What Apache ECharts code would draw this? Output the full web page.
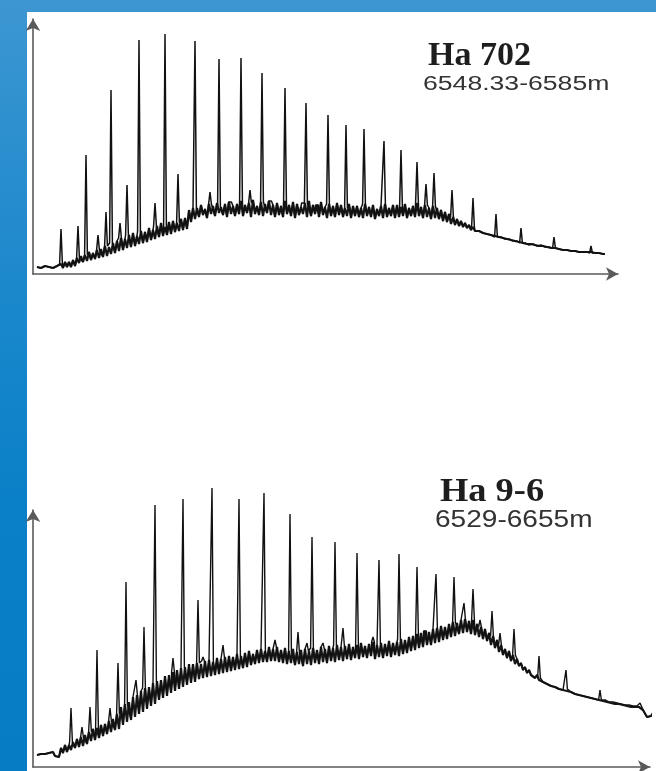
<!DOCTYPE html>
<html>
<head>
<meta charset="utf-8">
<script src="https://cdn.jsdelivr.net/npm/echarts@6/dist/echarts.min.js"></script>
<style>
  html, body { margin: 0; padding: 0; }
  body { width: 656px; height: 771px; background: linear-gradient(180deg, #3d96d2 0%, #1d89cc 35%, #0a80c8 65%, #067cc4 100%); overflow: hidden; }
  #chart { position: absolute; left: 0; top: 0; width: 656px; height: 771px; }
</style>
</head>
<body>
<div id="chart"></div>
<script>
// ---- Sample labels ----
const topTitle = "Ha 702";
const topDepth = "6548.33-6585m";
const bottomTitle = "Ha 9-6";
const bottomDepth = "6529-6655m";

// ---- Ha 702: UCM hump signal, upper excursions at whole scans ----
const topBaseline = [
  7, 6, 8, 7, 6, 8, 10, 12, 12, 14,
  16, 18, 19, 22, 21, 24, 25, 28, 27, 31,
  33, 36, 35, 39, 41, 38, 43, 42, 46, 44,
  48, 51, 47, 52, 53, 51, 55, 56,
  64, 66,
  66, 69, 65, 70, 68, 71, 67, 70, 72, 68,
  70, 73, 69, 71, 74, 68, 72, 70, 73, 69,
  71, 68, 73, 69, 72, 70, 67, 71, 73, 69,
  69, 72, 67, 70, 68, 71, 69, 66, 70, 68,
  68, 66, 70, 67, 69, 65, 68, 70, 66, 69,
  69, 67, 70, 66, 68, 71, 67, 69, 66, 68,
  66, 64, 62, 60, 57,
  55, 53, 51, 49, 47,
  44, 42, 42, 39, 39, 37, 37, 35, 35, 33,
  33, 31, 31, 29, 30, 28, 29, 27, 27, 26,
  26, 24, 25, 23, 24, 22, 24, 22, 23, 21,
  22, 20, 20
];
// ---- Ha 702: UCM hump signal, lower excursions at half scans (i + 0.5) ----
const topBaselineMid = [
  5, 5, 6, 5, 5, 6, 6, 7, 7, 8,
  11, 12, 13, 14, 15, 16, 17, 18, 20, 21,
  23, 24, 26, 27, 28, 30, 31, 32, 34, 35,
  37, 38, 39, 40, 42, 43, 44, 45,
  52, 55,
  57, 59, 56, 60, 58, 61, 59, 57, 60, 58,
  60, 58, 61, 57, 60, 59, 58, 61, 59, 57,
  59, 57, 60, 58, 56, 59, 60, 57, 58, 60,
  57, 59, 56, 58, 57, 59, 57, 58, 56, 58,
  57, 56, 58, 57, 55, 58, 56, 57, 58, 56,
  57, 58, 56, 58, 57, 58, 56, 57, 55, 56,
  55, 53, 52, 50, 49,
  48, 47, 46, 44, 43,
  43, 41, 40, 39, 38, 37, 36, 35, 34, 33,
  32, 31, 30, 30, 29, 28, 28, 27, 26, 26,
  25, 24, 24, 23, 23, 22, 22, 22, 22, 21,
  21, 20
];
// ---- Ha 702: n-alkane peaks (scan position, peak height) ----
const topPeakScan = [6, 10.25, 12.25, 17.25, 18.5, 22.5, 25.5, 29.5, 32, 35.25,
  39.5, 45.5, 51, 56.25, 62, 67.25, 72.75, 77.25, 81.75, 86.75,
  91, 95, 97.25, 99.25, 103.75, 109, 114.75, 121, 129.25, 138.5];
const topPeakHeight = [45, 48, 119, 62, 184, 89, 234, 71, 240, 100,
  233, 215, 216, 201, 186, 171, 159, 149, 145, 133,
  124, 112, 90, 101, 84, 76, 60, 46, 37, 28];
// ---- Ha 702: minor peaks ----
const topMinorScan = [15.25, 20.75, 43.25, 48.25, 53.25, 58.25, 66.5, 70];
const topMinorHeight = [39, 51, 82, 72, 84, 74, 72, 71];

// ---- Ha 9-6: UCM hump signal, upper excursions at whole scans ----
const bottomBaseline = [
  12, 13, 13, 14, 15, 11, 19, 22, 22, 25,
  28, 30, 32, 35, 38, 39, 42, 43, 46, 48,
  53, 60, 63, 65, 70, 72, 76, 79, 80, 84,
  86, 87, 91, 92, 95, 97, 99, 100, 103, 103,
  104, 103, 106, 107, 105, 109, 108, 110, 111, 110,
  113, 111, 114, 116, 113, 117, 118, 116, 120, 118,
  120, 117, 119, 116, 118, 115, 117, 118, 116, 119,
  117, 120, 118, 121, 119, 122, 120, 121, 123, 120,
  122, 124, 121, 123, 125, 122, 124, 123, 126, 124,
  125, 128, 127, 130, 131, 133, 134, 136, 135, 138,
  139, 141, 140, 143, 145, 144, 147, 148, 146, 147,
  143, 140, 138, 134, 131, 127, 122, 118, 116, 112,
  108, 104, 100, 97, 94, 92, 89, 87, 85, 83,
  81, 79, 78, 77, 75, 74, 73, 72, 71, 70,
  69, 67, 67, 65, 65, 64, 63, 62, 62, 61,
  61, 61, 55, 52, 54, 54
];
// ---- Ha 9-6: UCM hump signal, lower excursions at half scans (i + 0.5) ----
const bottomBaselineMid = [
  11, 11, 12, 12, 11, 10, 14, 15, 17, 19,
  20, 21, 23, 26, 27, 29, 31, 33, 35, 37,
  38, 42, 45, 47, 50, 53, 55, 58, 61, 63,
  67, 69, 71, 74, 76, 78, 80, 82, 84, 85,
  88, 89, 90, 91, 92, 93, 94, 95, 96, 97,
  98, 99, 100, 102, 103, 104, 105, 105, 106, 106,
  105, 104, 103, 104, 102, 103, 101, 103, 102, 104,
  103, 105, 104, 106, 105, 107, 106, 108, 107, 109,
  108, 110, 109, 111, 108, 110, 109, 111, 110, 112,
  111, 113, 114, 116, 117, 119, 120, 122, 122, 124,
  125, 127, 128, 130, 131, 133, 134, 135, 133, 132,
  130, 128, 126, 122, 119, 115, 112, 109, 106, 103,
  101, 97, 94, 92, 89, 87, 85, 83, 81, 80,
  78, 77, 76, 75, 73, 72, 71, 70, 69, 68,
  67, 66, 65, 64, 63, 63, 62, 61, 60, 60,
  60, 57, 50, 51, 53
];
// ---- Ha 9-6: n-alkane peaks (scan position, peak height) ----
const bottomPeakScan = [8.5, 13.25, 15, 20.25, 22.25, 24.75, 26.75, 29.5, 36.5, 40.25,
  43.75, 50.5, 56.75, 63.25, 68.75, 74.5, 80, 85.5, 90.5, 95,
  99.75, 104.25, 106.75, 109, 110.75, 113.75, 119.25, 125.5, 132.25, 140.75, 150.75];
const bottomPeakHeight = [59, 60, 117, 104, 185, 87, 140, 262, 268, 167,
  279, 268, 274, 253, 230, 225, 214, 207, 213, 200,
  193, 190, 164, 178, 147, 156, 138, 111, 97, 77, 64];
// ---- Ha 9-6: minor peaks ----
const bottomMinorScan = [11.25, 18.25, 34, 41.5, 46.5, 59.5, 65.25, 67.5, 71.5, 76.5, 84, 97, 115.75];
const bottomMinorHeight = [40, 59, 109, 110, 122, 127, 135, 124, 124, 139, 130, 137, 134];

// Build trace tables from the arrays above
function baselineTrace(base, mid) {
  const pts = [];
  base.forEach((v, i) => {
    pts.push([i, v]);
    if (i < mid.length) pts.push([i + 0.5, mid[i]]);
  });
  return pts;
}
function fullTrace(base, mid, peakScan, peakH) {
  const half = 0.35;
  const pts = baselineTrace(base, mid).filter(p => !peakScan.some(s => Math.abs(p[0] - s) < half));
  peakScan.forEach((p, k) => {
    const b = base[Math.min(base.length - 1, Math.round(p))];
    pts.push([p - half, b], [p, peakH[k]], [p + half, b]);
  });
  pts.sort((a, b) => a[0] - b[0]);
  return pts;
}

const axisLineStyle = { color: '#5a5a5a', width: 1.6 };
function xAx(gridIndex, max) {
  return {
    type: 'value', gridIndex, min: -1, max,
    axisLine: { show: true, onZero: false, symbol: ['none', 'arrow'], symbolSize: [10, 12], lineStyle: axisLineStyle },
    axisTick: { show: false }, axisLabel: { show: false }, splitLine: { show: false }
  };
}
function yAx(gridIndex, max) {
  return {
    type: 'value', gridIndex, min: 0, max,
    axisLine: { show: true, onZero: false, symbol: ['none', 'arrow'], symbolSize: [11, 12], lineStyle: axisLineStyle },
    axisTick: { show: false }, axisLabel: { show: false }, splitLine: { show: false }
  };
}

const chart = echarts.init(document.getElementById('chart'), null, { renderer: 'canvas' });
chart.setOption({
  animation: false,
  grid: [
    { left: 33, top: 19, width: 585, height: 255 },
    { left: 33, top: 510, width: 617, height: 257 }
  ],
  xAxis: [xAx(0, 145.25), xAx(1, 153.25)],
  yAxis: [yAx(0, 255), yAx(1, 257)],
  series: [
    {
      type: 'line', xAxisIndex: 0, yAxisIndex: 0, showSymbol: false, clip: false,
      data: baselineTrace(topBaseline, topBaselineMid),
      lineStyle: { color: '#161616', width: 2.2 }
    },
    {
      type: 'line', xAxisIndex: 0, yAxisIndex: 0, showSymbol: false, clip: false,
      data: fullTrace(topBaseline, topBaselineMid,
        topPeakScan.concat(topMinorScan), topPeakHeight.concat(topMinorHeight)),
      lineStyle: { color: '#111', width: 1.5 }
    },
    {
      type: 'line', xAxisIndex: 1, yAxisIndex: 1, showSymbol: false, clip: false,
      data: baselineTrace(bottomBaseline, bottomBaselineMid),
      lineStyle: { color: '#161616', width: 2.2 }
    },
    {
      type: 'line', xAxisIndex: 1, yAxisIndex: 1, showSymbol: false, clip: false,
      data: fullTrace(bottomBaseline, bottomBaselineMid,
        bottomPeakScan.concat(bottomMinorScan), bottomPeakHeight.concat(bottomMinorHeight)),
      lineStyle: { color: '#111', width: 1.4 }
    }
  ],
  graphic: [
    { type: 'rect', z: -100, shape: { x: 27, y: 12, width: 629, height: 759 }, style: { fill: '#ffffff' } },
    { type: 'text', z: 100, x: 428, y: 56, style: { text: topTitle, fontFamily: 'Liberation Serif', fontWeight: 'bold', fontSize: 34, fill: '#1e1e1e', verticalAlign: 'middle', align: 'left' } },
    { type: 'text', z: 100, x: 423, y: 84, scaleX: 1.33, style: { text: topDepth, fontFamily: 'Liberation Sans', fontSize: 20, fill: '#333333', verticalAlign: 'middle', align: 'left' } },
    { type: 'text', z: 100, x: 440, y: 492, scaleX: 1.07, style: { text: bottomTitle, fontFamily: 'Liberation Serif', fontWeight: 'bold', fontSize: 34, fill: '#1e1e1e', verticalAlign: 'middle', align: 'left' } },
    { type: 'text', z: 100, x: 435, y: 521, scaleX: 1.22, style: { text: bottomDepth, fontFamily: 'Liberation Sans', fontSize: 23, fill: '#333333', verticalAlign: 'middle', align: 'left' } }
  ]
});
</script>
</body>
</html>
